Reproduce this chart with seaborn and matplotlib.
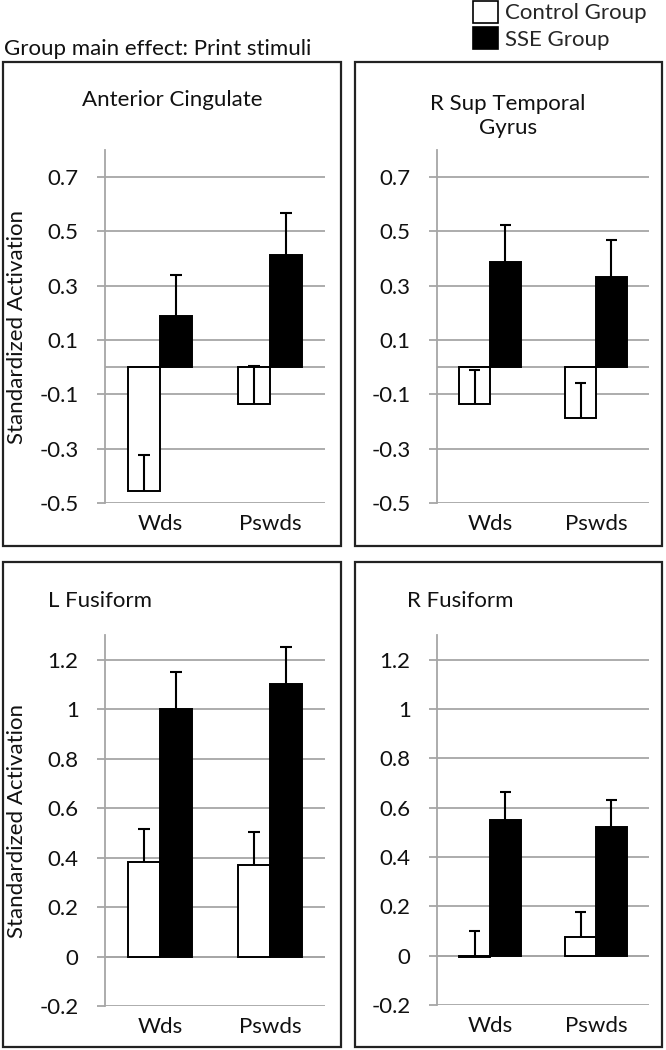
import matplotlib
matplotlib.use('Agg')
import matplotlib.pyplot as plt
from matplotlib.patches import Rectangle, Patch
from matplotlib.ticker import FuncFormatter
import numpy as np
import pandas as pd
import seaborn as sns

sns.set_theme(style='white')
plt.rcParams['font.family'] = ['Lato', 'DejaVu Sans']

stimuli = ['Wds', 'Pswds']
groups = ['Control Group', 'SSE Group']
regions = ['Anterior Cingulate', 'R Sup Temporal\nGyrus', 'L Fusiform', 'R Fusiform']

# bar heights per region, [Wds, Pswds]
control_mean = [[-0.456, -0.134], [-0.137, -0.186], [0.384, 0.37], [-0.007, 0.077]]
sse_mean = [[0.187, 0.415], [0.387, 0.333], [1.0, 1.10], [0.55, 0.521]]
# upper error bars only
control_err = [[0.134, 0.138], [0.125, 0.129], [0.132, 0.135], [0.105, 0.101]]
sse_err = [[0.151, 0.153], [0.138, 0.137], [0.152, 0.15], [0.113, 0.112]]

rows = []
for r, reg in enumerate(regions):
    for s, stim in enumerate(stimuli):
        rows.append([reg, stim, 'Control Group', control_mean[r][s], control_err[r][s]])
        rows.append([reg, stim, 'SSE Group', sse_mean[r][s], sse_err[r][s]])
df = pd.DataFrame(rows, columns=['region', 'stim', 'group', 'value', 'err'])

W, H = 666, 1050
fig = plt.figure(figsize=(W / 100, H / 100), dpi=100)

def fx(px):
    return px / W

def fy(py):
    return 1 - py / H

# axes placement in pixels: left, top, right, bottom
ax_px = [(105, 150, 325, 503), (437, 150, 649, 503),
         (105, 635, 325, 1006), (437, 635, 649, 1005)]
ylims = [(-0.5, 0.8), (-0.5, 0.8), (-0.2, 1.3), (-0.2, 1.3)]
yticks = [np.arange(-0.5, 0.75, 0.2), np.arange(-0.5, 0.75, 0.2),
          np.arange(-0.2, 1.25, 0.2), np.arange(-0.2, 1.25, 0.2)]
boxes = [(3, 62, 341, 546), (355, 62, 662, 546), (3, 562, 341, 1047), (355, 562, 662, 1047)]
title_pos = [(172, 100), (508, 116), (100, 601), (460, 601)]

gray = '#a6a6a6'
fs = 16

for i, reg in enumerate(regions):
    l, t, r, b = ax_px[i]
    ax = fig.add_axes([fx(l), fy(b), fx(r - l), (b - t) / H])
    sub = df[df.region == reg]
    sns.barplot(data=sub, x='stim', y='value', hue='group', order=stimuli, hue_order=groups,
                palette={'Control Group': 'white', 'SSE Group': 'black'},
                edgecolor='black', linewidth=1.4, width=0.58, errorbar=None,
                legend=False, ax=ax, zorder=2)
    for cont, g in zip(ax.containers, groups):
        gsub = sub[sub.group == g].set_index('stim').loc[stimuli]
        for bar, val, err in zip(cont, gsub['value'], gsub['err']):
            xc = bar.get_x() + bar.get_width() / 2
            hw = bar.get_width() * 0.19
            ax.vlines(xc, val, val + err, color='black', lw=1.5, zorder=3)
            ax.hlines(val + err, xc - hw, xc + hw, color='black', lw=1.5, zorder=3)
    ax.axhline(0, color=gray, lw=1.3, zorder=1.5)
    ax.set_xlim(-0.5, 1.5)
    ax.set_ylim(*ylims[i])
    ax.set_yticks(np.round(yticks[i], 2))
    ax.yaxis.set_major_formatter(FuncFormatter(lambda v, p: f'{v:g}'))
    ax.set_axisbelow(True)
    ax.yaxis.grid(True, color=gray, lw=1.3)
    ax.xaxis.grid(False)
    for sp in ['top', 'right', 'bottom']:
        ax.spines[sp].set_visible(False)
    ax.spines['left'].set_color(gray)
    ax.spines['left'].set_linewidth(1.3)
    ax.tick_params(axis='y', left=True, length=6, width=1.3, color=gray, pad=13,
                   labelsize=fs, labelcolor='#111111')
    ax.tick_params(axis='x', bottom=False, length=0, pad=8, labelsize=fs, labelcolor='#111111')
    ax.set_xlabel('')
    if i % 2 == 0:
        ax.set_ylabel('Standardized Activation', fontsize=fs, color='#111111')
        ax.yaxis.set_label_coords((27 - l) / (r - l), 0.5)
    else:
        ax.set_ylabel('')

    x0, y0, x1, y1 = boxes[i]
    fig.add_artist(Rectangle((fx(x0), fy(y1)), fx(x1 - x0), (y1 - y0) / H,
                             transform=fig.transFigure, fill=False, lw=1.6, ec='#222222'))
    tx, ty = title_pos[i]
    fig.text(fx(tx), fy(ty), reg, ha='center', va='center', fontsize=fs,
             color='#111111', linespacing=1.3)

fig.text(fx(4), fy(55), 'Group main effect: Print stimuli', ha='left', va='baseline',
         fontsize=fs, color='#111111')

handles = [Patch(facecolor='white', edgecolor='black', lw=1.2, label=groups[0]),
           Patch(facecolor='black', edgecolor='black', lw=1.2, label=groups[1])]
fig.legend(handles=handles, loc='upper left', bbox_to_anchor=(fx(473), fy(1)),
           frameon=False, fontsize=fs, handlelength=1.12, handleheight=1.12,
           handletextpad=0.32, labelspacing=0.18, borderaxespad=0, borderpad=0)

fig.savefig('out.png', dpi=100)
